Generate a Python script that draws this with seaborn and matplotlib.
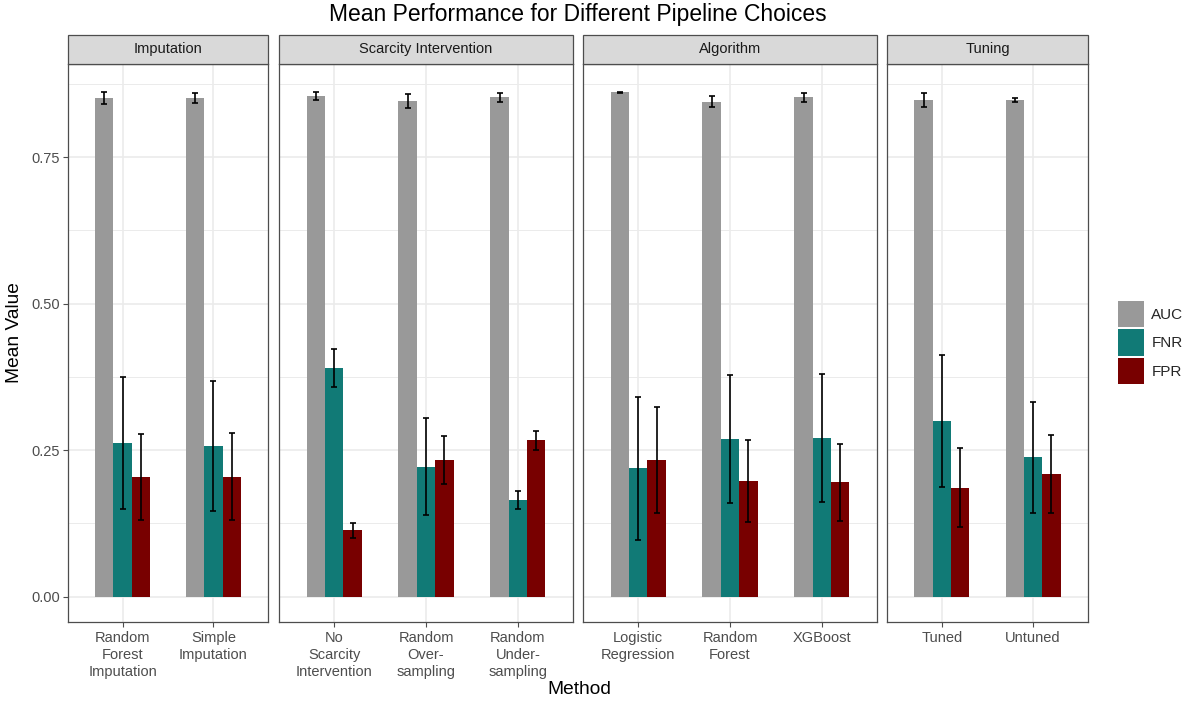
import numpy as np
import pandas as pd
import matplotlib
matplotlib.use("Agg")
import matplotlib.pyplot as plt
from matplotlib.patches import Rectangle
from matplotlib.ticker import FixedLocator
import seaborn as sns

# ---- data -------------------------------------------------------------
facets = ["Imputation", "Scarcity Intervention", "Algorithm", "Tuning"]

methods = [
    "Random\nForest\nImputation", "Simple\nImputation",
    "No\nScarcity\nIntervention", "Random\nOver-\nsampling", "Random\nUnder-\nsampling",
    "Logistic\nRegression", "Random\nForest", "XGBoost",
    "Tuned", "Untuned",
]
method_facet = [
    "Imputation", "Imputation",
    "Scarcity Intervention", "Scarcity Intervention", "Scarcity Intervention",
    "Algorithm", "Algorithm", "Algorithm",
    "Tuning", "Tuning",
]

metrics = ["AUC", "FNR", "FPR"]

auc_mean = [0.851, 0.851, 0.854, 0.846, 0.852, 0.861, 0.845, 0.852, 0.847, 0.848]
auc_err  = [0.010, 0.009, 0.007, 0.012, 0.007, 0.001, 0.009, 0.007, 0.012, 0.0035]
fnr_mean = [0.262, 0.257, 0.390, 0.222, 0.165, 0.219, 0.269, 0.271, 0.300, 0.238]
fnr_err  = [0.112, 0.111, 0.033, 0.083, 0.016, 0.122, 0.109, 0.109, 0.113, 0.095]
fpr_mean = [0.204, 0.205, 0.113, 0.233, 0.267, 0.233, 0.198, 0.195, 0.186, 0.209]
fpr_err  = [0.073, 0.074, 0.013, 0.041, 0.016, 0.090, 0.070, 0.066, 0.068, 0.067]

metric_colors = ["#999999", "#117A76", "#780000"]

# ---- long table -------------------------------------------------------
rows = []
for m_name, means, errs in [("AUC", auc_mean, auc_err),
                            ("FNR", fnr_mean, fnr_err),
                            ("FPR", fpr_mean, fpr_err)]:
    for meth, fac, v, e in zip(methods, method_facet, means, errs):
        rows.append({"Facet": fac, "Method": meth, "Metric": m_name,
                     "Value": v, "Err": e})
df = pd.DataFrame(rows)

# ---- style ------------------------------------------------------------
sns.set_theme(style="white")
plt.rcParams["font.family"] = ["Liberation Sans", "DejaVu Sans"]

W, H = 1192, 702
fig = plt.figure(figsize=(W / 100, H / 100), dpi=100)

panel_left = [68, 279, 583, 887]
panel_right = [268, 573, 877, 1088]
panel_top, panel_bottom = 64, 622
strip_top = 35

y_lo, y_hi = -0.0433, 0.909
grid_col = "#EBEBEB"
frame_col = "#4D4D4D"

handles = labels = None
for i, fac in enumerate(facets):
    l, r = panel_left[i], panel_right[i]
    ax = fig.add_axes([l / W, 1 - panel_bottom / H, (r - l) / W,
                       (panel_bottom - panel_top) / H])
    order = [m for m, f in zip(methods, method_facet) if f == fac]
    sub = df[df["Facet"] == fac]
    sns.barplot(data=sub, x="Method", y="Value", hue="Metric",
                order=order, hue_order=metrics, palette=metric_colors,
                width=0.6, gap=0, saturation=1, errorbar=None,
                linewidth=0, ax=ax, legend=(i == 0), zorder=2)

    # error bars at the centre of each dodged bar
    for cont, met in zip(ax.containers, metrics):
        msub = sub[sub["Metric"] == met].set_index("Method").loc[order]
        xs = [b.get_x() + b.get_width() / 2 for b in cont]
        ax.errorbar(xs, msub["Value"].values, yerr=msub["Err"].values,
                    fmt="none", ecolor="black", elinewidth=1.2,
                    capsize=2.5, capthick=1.2, zorder=3)

    if i == 0:
        handles, labels = ax.get_legend_handles_labels()
        ax.get_legend().remove()

    n = len(order)
    ax.set_xlim(-0.6, n - 1 + 0.6)
    ax.set_ylim(y_lo, y_hi)
    ax.set_xlabel("")
    ax.set_ylabel("")

    # grid lines (major + minor)
    ax.set_axisbelow(True)
    ax.yaxis.set_major_locator(FixedLocator([0, 0.25, 0.5, 0.75]))
    ax.yaxis.set_minor_locator(FixedLocator([0.125, 0.375, 0.625, 0.875]))
    ax.grid(True, which="major", axis="both", color=grid_col, lw=1.2, zorder=0)
    ax.grid(True, which="minor", axis="y", color=grid_col, lw=0.7, zorder=0)

    ax.tick_params(axis="x", which="major", length=3.5, width=0.8,
                   color=frame_col, labelsize=10.5, labelcolor="#4D4D4D",
                   pad=3, direction="out", bottom=True)
    for t in ax.get_xticklabels():
        t.set_linespacing(1.25)
    ax.tick_params(axis="y", which="minor", length=0)
    if i == 0:
        ax.set_yticklabels(["0.00", "0.25", "0.50", "0.75"])
        ax.tick_params(axis="y", which="major", length=3.5, width=0.8,
                       color=frame_col, labelsize=10.5, labelcolor="#4D4D4D",
                       pad=2, direction="out", left=True)
    else:
        ax.tick_params(axis="y", which="major", length=0, labelleft=False)

    for sp in ax.spines.values():
        sp.set_color(frame_col)
        sp.set_linewidth(0.9)
        sp.set_visible(True)
        sp.set_zorder(4)

    # facet strip
    h_frac = (panel_top - strip_top) / (panel_bottom - panel_top)
    ax.add_patch(Rectangle((0, 1), 1, h_frac, transform=ax.transAxes,
                           facecolor="#D9D9D9", edgecolor=frame_col,
                           lw=0.9, clip_on=False, zorder=5))
    ax.text(0.5, 1 + h_frac / 2, fac, transform=ax.transAxes,
            ha="center", va="center", fontsize=10.5, color="#1A1A1A",
            zorder=6)

# legend
fig.legend(handles, labels, loc="upper left",
           bbox_to_anchor=(1107 / W, 1 - 290 / H), frameon=False,
           fontsize=11, handlelength=1.75, handleheight=2.3,
           handletextpad=0.45, labelspacing=0.12, borderpad=0.2)

# titles
fig.text(578 / W, 1 - 14 / H, "Mean Performance for Different Pipeline Choices",
         ha="center", va="center", fontsize=16.5, color="black")
fig.text(579 / W, 1 - 690 / H, "Method", ha="center", va="center",
         fontsize=13.8, color="black")
fig.text(15 / W, 1 - 333 / H, "Mean Value", ha="center", va="center",
         rotation=90, fontsize=13.8, color="black")

fig.savefig("out.png", dpi=100, facecolor="white")
